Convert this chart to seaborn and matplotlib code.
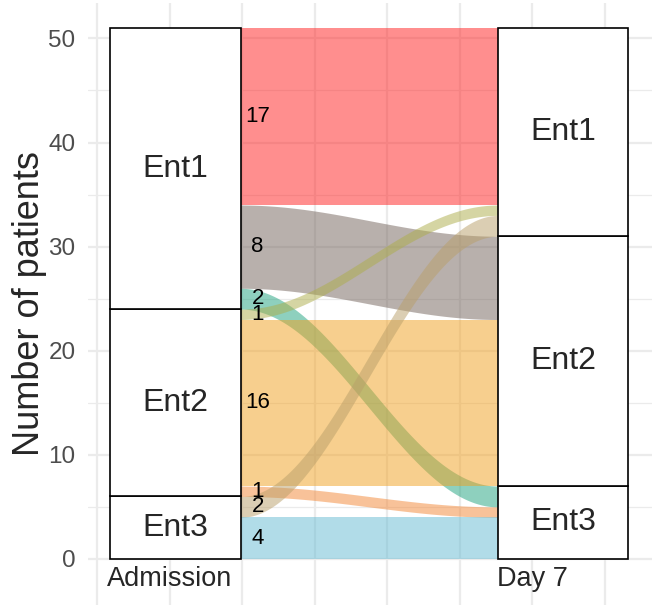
import numpy as np
import seaborn as sns
import matplotlib.pyplot as plt

# Alluvial data: patients moving between entities from admission to day 7
stages = ["Admission", "Day 7"]
strata = ["Ent1", "Ent2", "Ent3"]
flow_from = ["Ent1", "Ent1", "Ent1", "Ent2", "Ent2", "Ent2", "Ent3", "Ent3"]
flow_to = ["Ent1", "Ent2", "Ent3", "Ent1", "Ent2", "Ent3", "Ent1", "Ent3"]
flow_n = [17, 8, 2, 1, 16, 1, 2, 4]
flow_colors = ["#FF1F1F", "#73635B", "#1FA37F", "#ADAD49",
               "#F1A11F", "#F38735", "#B99F69", "#65BBD3"]

sns.set_theme(style="whitegrid")
plt.rcParams["font.family"] = ["Liberation Sans", "DejaVu Sans"]

fig = plt.figure(figsize=(6.57, 6.09), dpi=100)
ax = fig.add_axes([0.134, 0.007, 0.858, 0.988])

box_x = [1.015, 2.085]
box_w = 0.36
label_x = [1.0, 2.0]

# stacking order: Ent3 at the bottom, Ent1 on top
order = strata[::-1]
n = np.array(flow_n)
frm = np.array(flow_from)
to = np.array(flow_to)


def stratum_bottoms(keys):
    tot = {s: n[keys == s].sum() for s in order}
    bottoms, cur = {}, 0
    for s in order:
        bottoms[s] = cur
        cur += tot[s]
    return tot, bottoms


tot_l, bot_l = stratum_bottoms(frm)
tot_r, bot_r = stratum_bottoms(to)

# flow positions within each stratum
left_lo = np.zeros(len(n))
right_lo = np.zeros(len(n))
for s in order:
    cur = bot_l[s]
    for d in order:
        for i in range(len(n)):
            if frm[i] == s and to[i] == d:
                left_lo[i] = cur
                cur += n[i]
    cur = bot_r[s]
    for o in order:
        for i in range(len(n)):
            if to[i] == s and frm[i] == o:
                right_lo[i] = cur
                cur += n[i]

x0 = box_x[0] + box_w / 2
x1 = box_x[1] - box_w / 2
t = np.linspace(0, 1, 200)
xs = x0 + (x1 - x0) * t
w = (1 - np.cos(np.pi * t)) / 2

for i in range(len(n)):
    lo = left_lo[i] + (right_lo[i] - left_lo[i]) * w
    ax.fill_between(xs, lo, lo + n[i], color=flow_colors[i], alpha=0.5,
                    linewidth=0, zorder=2)
    ax.text(1.242, left_lo[i] + n[i] / 2, str(n[i]), ha="center",
            va="center", fontsize=16, color="black", zorder=5)

# strata boxes
for k, (tot, bot) in enumerate([(tot_l, bot_l), (tot_r, bot_r)]):
    for s in order:
        ax.bar(box_x[k], tot[s], width=box_w, bottom=bot[s], color="white",
               edgecolor="black", linewidth=1.2, zorder=3)
        ax.text(box_x[k], bot[s] + tot[s] / 2, s, ha="center", va="center",
                fontsize=23, zorder=4)

for k, st in enumerate(stages):
    ax.text(label_x[k], -1.97, st, ha="center", va="center", fontsize=19.5)

ax.set_xlim(0.774, 2.33)
ax.set_ylim(-4.4, 53.4)
ax.set_xticks(np.arange(0.8, 2.21, 0.2))
ax.set_xticklabels([])
ax.set_yticks(np.arange(0, 51, 10))
ax.set_yticks(np.arange(5, 51, 10), minor=True)
ax.tick_params(axis="both", length=0)
ax.tick_params(axis="y", labelsize=17.5, labelcolor="#4D4D4D", pad=9)
ax.grid(True, which="major", color="#EBEBEB", linewidth=1.6, zorder=0)
ax.grid(True, which="minor", axis="y", color="#EBEBEB", linewidth=0.9)
ax.set_axisbelow(True)
for sp in ax.spines.values():
    sp.set_visible(False)
ax.set_facecolor("white")
ax.set_ylabel("Number of patients", fontsize=26, labelpad=1)
ax.set_xlabel("")

plt.savefig("out.png", dpi=100)
